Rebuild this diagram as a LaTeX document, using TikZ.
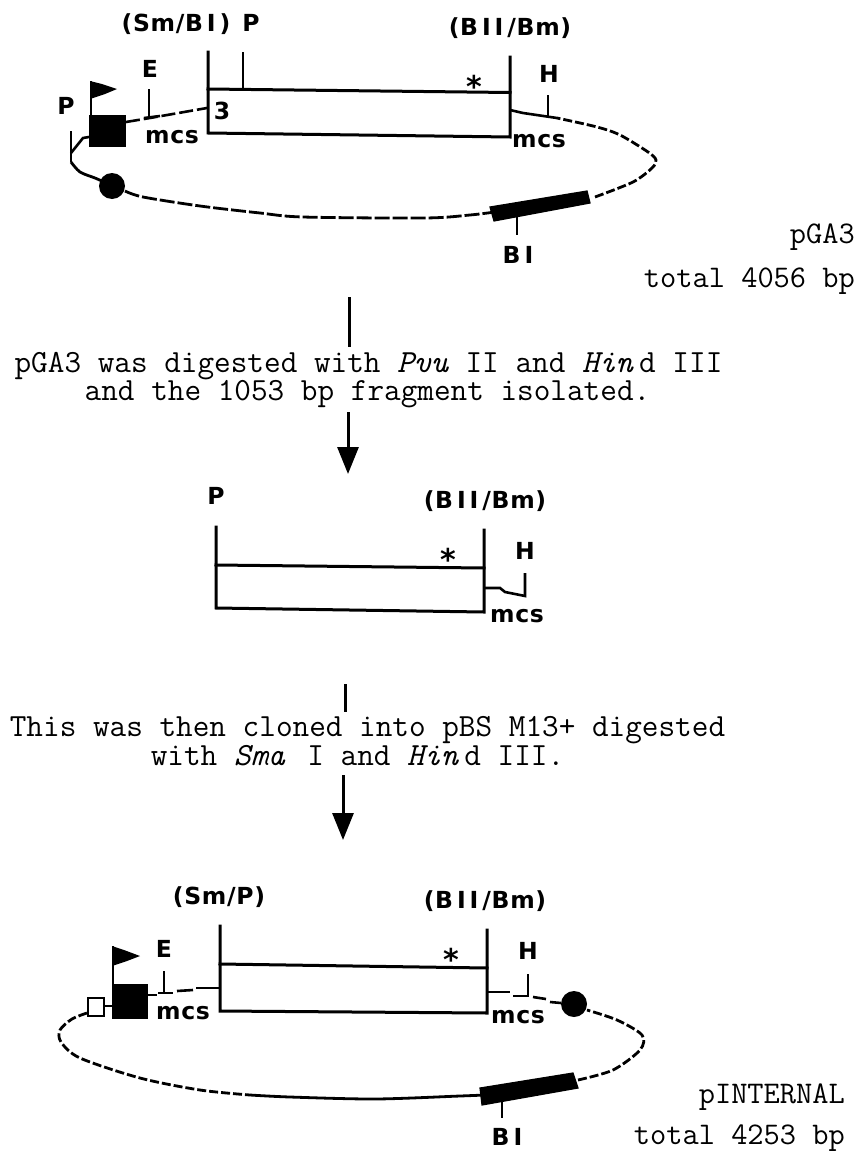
\documentclass[tikz,border=0pt]{standalone}
\usepackage{fontspec}
\usetikzlibrary{arrows.meta}
\setmonofont{Latin Modern Mono}
\newfontfamily\sitefont[LetterSpace=3]{DejaVu Sans Bold}
\tikzset{
  site/.style={inner sep=0pt,anchor=base,font=\sitefont\fontsize{23.5}{26}\selectfont},
  star/.style={inner sep=0pt,anchor=base,font=\sitefont\fontsize{30}{32}\selectfont},
  note/.style={inner sep=0pt,anchor=base,font=\ttfamily\fontsize{32.3}{36}\selectfont},
  noteright/.style={inner sep=0pt,anchor=base east,font=\ttfamily\fontsize{31.5}{36}\selectfont},
  insert/.style={line width=3pt,line cap=rect},
  tick/.style={line width=2.8pt},
  mcsline/.style={line width=2.6pt},
  plasmid/.style={line width=2.8pt,dash pattern=on 15pt off 3pt},
  shortdash/.style={line width=2.8pt,dash pattern=on 9pt off 3pt},
  solidarc/.style={line width=2.8pt},
  band/.style={fill=black,draw=black,line width=1.2pt},
  flow/.style={line width=3pt},
  flowhead/.style={line width=3pt,-{Triangle[length=27pt,width=21pt]}},
}
\begin{document}
\begin{tikzpicture}[x=1pt,y=-1pt]
\useasboundingbox (0,0) rectangle (862,1151);
% ---------- pGA3 ----------
\node[site] (sm1) at (176,31) {(Sm/B\,I\,)};
\node[site] (p1) at (251,31) {P};
\node[site] (bg1) at (510,35) {(B\,I\,I\,/Bm)};
\node[site] (e1) at (150,77) {E};
\node[site] (h1) at (549,82) {H};
\node[site] (pl) at (66,114) {P};
\node[site] (three) at (222,119) {3};
\node[site] (mcsa) at (172,143) {mcs};
\node[site] (mcsb) at (539,147) {mcs};
\node[star] (star1) at (474,97) {*};
\node[site] (bl1) at (518,263) {B\,I};
\node[noteright] (name1) at (855,243) {pGA3};
\node[noteright] (total1) at (855,287) {total 4056 bp};
% insert
\draw[insert] (208,52) -- (208,133) -- (510,137) -- (510,57);
\draw[insert] (208,89) -- (510,92.5);
\draw[tick] (243,52) -- (243,89);
% promoter block and flag
\fill (89,115) rectangle (126,147);
\draw[tick] (91,81) -- (91,115);
\fill (90,81) -- (102,84) -- (117,89) -- (105,94) -- (90,99) -- cycle;
% sites on the circle
\draw[tick] (149,89) -- (149,118);
\draw[mcsline] (144,118) -- (160,116);
\draw[tick] (548,95) -- (548,118);
\draw[tick] (517,215) -- (517,235);
\draw[tick] (71,131) -- (71,162);
\draw[mcsline] (71,153) -- (83,138) -- (89,137);
% circle
\draw[solidarc] plot[smooth] coordinates {(71,162) (80,172) (95,178) (104,182)};
\fill (112,186) circle (13);
\draw[plasmid] plot[smooth] coordinates {(125,191) (143,197) (200,206) (260,213) (303,217) (425,218) (470,215) (495,212)};
\draw[band] (490,207) -- (587,191) -- (590,203) -- (494,221) -- cycle;
\draw[shortdash] plot[smooth] coordinates {(595,197) (633,182) (652,168) (656,160) (648,152) (620,135) (597,127) (557,118)};
\draw[mcsline] (557,118) -- (523,113) -- (510,110);
\draw[mcsline,dash pattern=on 14pt off 4pt] (126,122) -- (150,118) -- (207,108);
% ---------- first step ----------
\node[note] (step1a) at (368.5,372) {pGA3 was digested with \textit{Pvu} II and \textit{Hin}\,d III};
\node[note] (step1b) at (367.5,400) {and the 1053 bp fragment isolated.};
\coordinate (a1) at (349,297);
\coordinate (a2) at (349,347);
\coordinate (a3) at (348,412);
\coordinate (a4) at (348,474);
\draw[flow] (a1) -- (a2);
\draw[flowhead] (a3) -- (a4);
% ---------- fragment ----------
\node[site] (p2) at (216,504) {P};
\node[site] (bg2) at (485,508) {(B\,I\,I\,/Bm)};
\node[site] (h2) at (525,559) {H};
\node[site] (mcsc) at (517,622) {mcs};
\node[star] (star2) at (448,570) {*};
\draw[insert] (216,527) -- (216,608) -- (484,612) -- (484,530);
\draw[insert] (216,565) -- (484,568);
\draw[mcsline] (484,588) -- (500,588) -- (505,592) -- (525,596) -- (525,573);
% ---------- second step ----------
\node[note] (step2a) at (367.5,736) {This was then cloned into pBS M13+ digested};
\node[note] (step2b) at (357.5,765) {with \textit{Sma}\, I and \textit{Hin}\,d III.};
\coordinate (b1) at (345,684);
\coordinate (b2) at (345,712);
\coordinate (b3) at (343,775);
\coordinate (b4) at (343,840);
\draw[flow] (b1) -- (b2);
\draw[flowhead] (b3) -- (b4);
% ---------- pINTERNAL ----------
\node[site] (sm3) at (219,904) {(Sm/P)};
\node[site] (bg3) at (485,908) {(B\,I\,I\,/Bm)};
\node[site] (e3) at (164,957) {E};
\node[site] (h3) at (528,959) {H};
\node[site] (mcsd) at (183,1019) {mcs};
\node[site] (mcse) at (518,1023) {mcs};
\node[star] (star3) at (451,970) {*};
\node[site] (bl3) at (507,1145) {B\,I};
\node[noteright] (name3) at (845,1103) {pINTERNAL};
\node[noteright] (total3) at (845,1144.5) {total 4253 bp};
% insert
\draw[insert] (220,926) -- (220,1011) -- (487,1013) -- (487,930);
\draw[insert] (220,964) -- (487,968);
% promoter block, flag and open square
\fill (112,984) rectangle (148,1019);
\draw[tick] (113,946) -- (113,984);
\fill (112,946) -- (124,950) -- (140,956) -- (127,961) -- (112,966) -- cycle;
\draw[line width=2.4pt,fill=white] (88,998) rectangle (104,1016);
\draw[mcsline] (104,1006) -- (112,1006);
% sites and multiple cloning site
\draw[tick] (164,971) -- (164,993);
\draw[mcsline] (148,995) -- (157,995);
\draw[mcsline] (158,993) -- (173,993);
\draw[mcsline] (177,991) -- (193,990);
\draw[mcsline] (196,988) -- (220,988);
\draw[mcsline] (487,992) -- (510,992);
\draw[mcsline] (513,996) -- (528,996) -- (528,974);
\draw[mcsline] (533,997) -- (546,999);
\draw[mcsline] (550,1002) -- (561,1003);
\draw[tick] (502,1100) -- (502,1118);
% circle
\fill (574,1004) circle (13);
\draw[shortdash] plot[smooth] coordinates {(87,1013) (72,1019) (60,1030) (61,1042) (80,1058) (140,1078) (200,1090) (250,1095)};
\draw[solidarc] plot[smooth] coordinates {(250,1095) (290,1097) (375,1099) (460,1096) (485,1095)};
\draw[band] (480,1088) -- (573,1073) -- (578,1088) -- (482,1105) -- cycle;
\draw[shortdash] plot[smooth] coordinates {(578,1080) (613,1070) (640,1050) (642,1035) (617,1020) (587,1010)};
\end{tikzpicture}
\end{document}
